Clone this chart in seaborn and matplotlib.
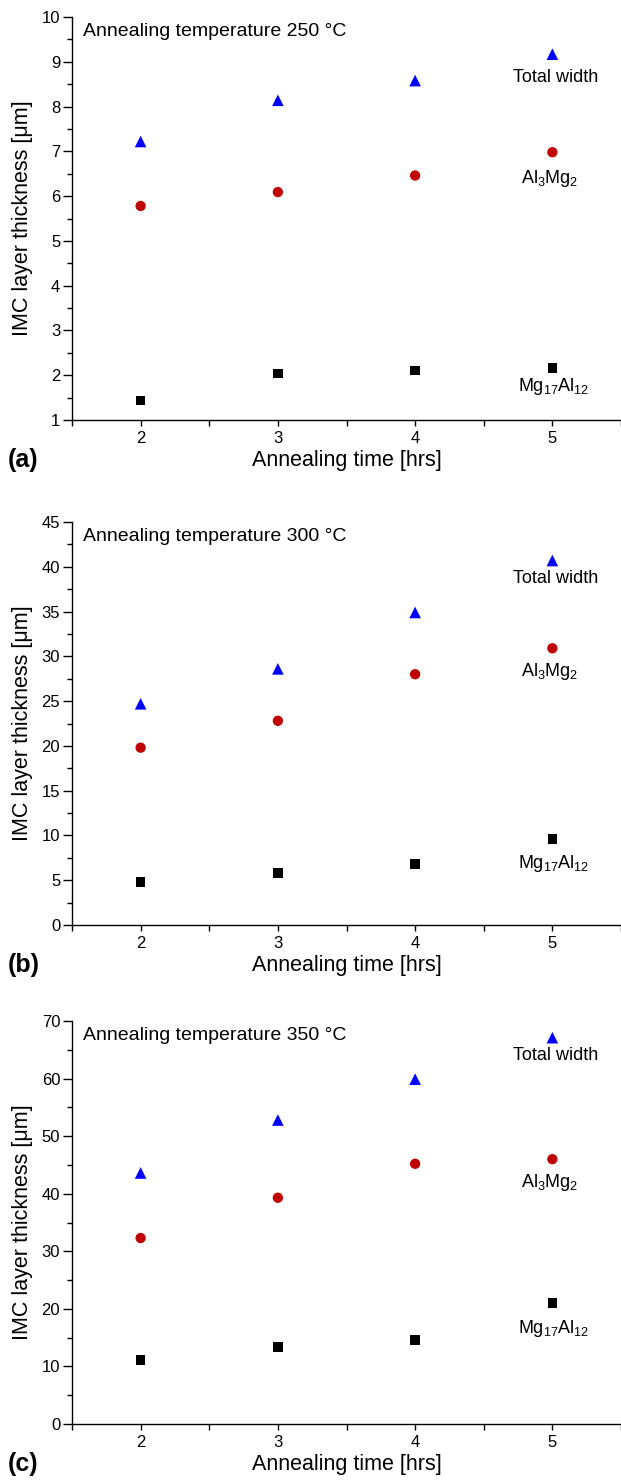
import seaborn as sns
import matplotlib.pyplot as plt
import pandas as pd
from matplotlib.ticker import MultipleLocator

# data
times = [2, 3, 4, 5]
temperatures = [250, 300, 350]
panel_tags = ['(a)', '(b)', '(c)']

total_250 = [7.22, 8.14, 8.58, 9.17]
al3mg2_250 = [5.78, 6.09, 6.46, 6.98]
mg17al12_250 = [1.44, 2.04, 2.10, 2.16]

total_300 = [24.7, 28.6, 34.9, 40.7]
al3mg2_300 = [19.8, 22.8, 28.0, 30.9]
mg17al12_300 = [4.8, 5.8, 6.8, 9.6]

total_350 = [43.6, 52.8, 59.9, 67.1]
al3mg2_350 = [32.3, 39.3, 45.2, 46.0]
mg17al12_350 = [11.1, 13.4, 14.6, 21.0]

y_limits = [(1, 10), (0, 45), (0, 70)]
y_major = [1, 5, 10]

phase_names = ['Total width', 'Al3Mg2', 'Mg17Al12']
phase_labels = ['Total width', r'Al$_\mathregular{3}$Mg$_\mathregular{2}$',
                r'Mg$_\mathregular{17}$Al$_\mathregular{12}$']
markers = {'Total width': '^', 'Al3Mg2': 'o', 'Mg17Al12': 's'}
colors = {'Total width': '#0000FF', 'Al3Mg2': '#C00000', 'Mg17Al12': '#000000'}
sizes = {'Total width': 70, 'Al3Mg2': 55, 'Mg17Al12': 45}

series = [
    [total_250, al3mg2_250, mg17al12_250],
    [total_300, al3mg2_300, mg17al12_300],
    [total_350, al3mg2_350, mg17al12_350],
]

sns.set_style("ticks")
plt.rcParams['font.family'] = ['Liberation Sans', 'DejaVu Sans']
plt.rcParams['mathtext.fontset'] = 'custom'
plt.rcParams['mathtext.rm'] = 'Liberation Sans'
plt.rcParams['mathtext.it'] = 'Liberation Sans:italic'
plt.rcParams['axes.linewidth'] = 1.0
for key in ['text.color', 'axes.labelcolor', 'axes.edgecolor',
            'xtick.color', 'ytick.color']:
    plt.rcParams[key] = 'black'

fig = plt.figure(figsize=(6.21, 14.83), dpi=100)
W, H = 621, 1483
axes_px = [(17, 420), (522, 925), (1021, 1424)]
# label offsets (pixels) from the last marker of each series, per panel
label_dx = [3, -3, 1]
label_dy = [[-23, -26, -18], [-18, -23, -24], [-18, -23, -25]]

for i in range(3):
    top, bottom = axes_px[i]
    ax = fig.add_axes([72 / W, 1 - bottom / H, 549 / W, (bottom - top) / H])

    df = pd.DataFrame({
        'time': times * 3,
        'thickness': series[i][0] + series[i][1] + series[i][2],
        'phase': [p for p in phase_names for _ in times],
    })
    for k, name in enumerate(phase_names):
        sub = df[df['phase'] == name]
        sns.scatterplot(data=sub, x='time', y='thickness', marker=markers[name],
                        color=colors[name], s=sizes[name], edgecolor='none',
                        ax=ax, legend=False, clip_on=False, zorder=3)
        last = sub.iloc[-1]
        ax.annotate(phase_labels[k], (last['time'], last['thickness']),
                    xytext=(label_dx[k], label_dy[i][k]),
                    textcoords='offset pixels', ha='center', va='center',
                    fontsize=13)

    ax.set_xlim(1.5, 5.5)
    ax.set_ylim(*y_limits[i])
    ax.xaxis.set_major_locator(MultipleLocator(1))
    ax.xaxis.set_minor_locator(MultipleLocator(0.5))
    ax.yaxis.set_major_locator(MultipleLocator(y_major[i]))
    ax.yaxis.set_minor_locator(MultipleLocator(y_major[i] / 2))
    ax.tick_params(axis='x', which='both', direction='out', length=4,
                   width=1, labelsize=12, pad=4)
    ax.tick_params(axis='y', which='major', direction='out', length=6.5,
                   width=1, labelsize=12, pad=2)
    ax.tick_params(axis='y', which='minor', direction='out', length=3.5, width=1)
    sns.despine(ax=ax)

    ax.set_xlabel('Annealing time [hrs]', fontsize=15.5, labelpad=3)
    ax.set_ylabel('IMC layer thickness [\u03bcm]', fontsize=15.5, labelpad=6)
    ax.text(0.02, 0.985, f'Annealing temperature {temperatures[i]} \u00b0C',
            transform=ax.transAxes, ha='left', va='top', fontsize=14)

    fig.text(8 / W, 1 - (bottom + 40) / H, panel_tags[i], ha='left',
             va='center', fontsize=18, fontweight='bold')

fig.savefig('out.png', dpi=100)
